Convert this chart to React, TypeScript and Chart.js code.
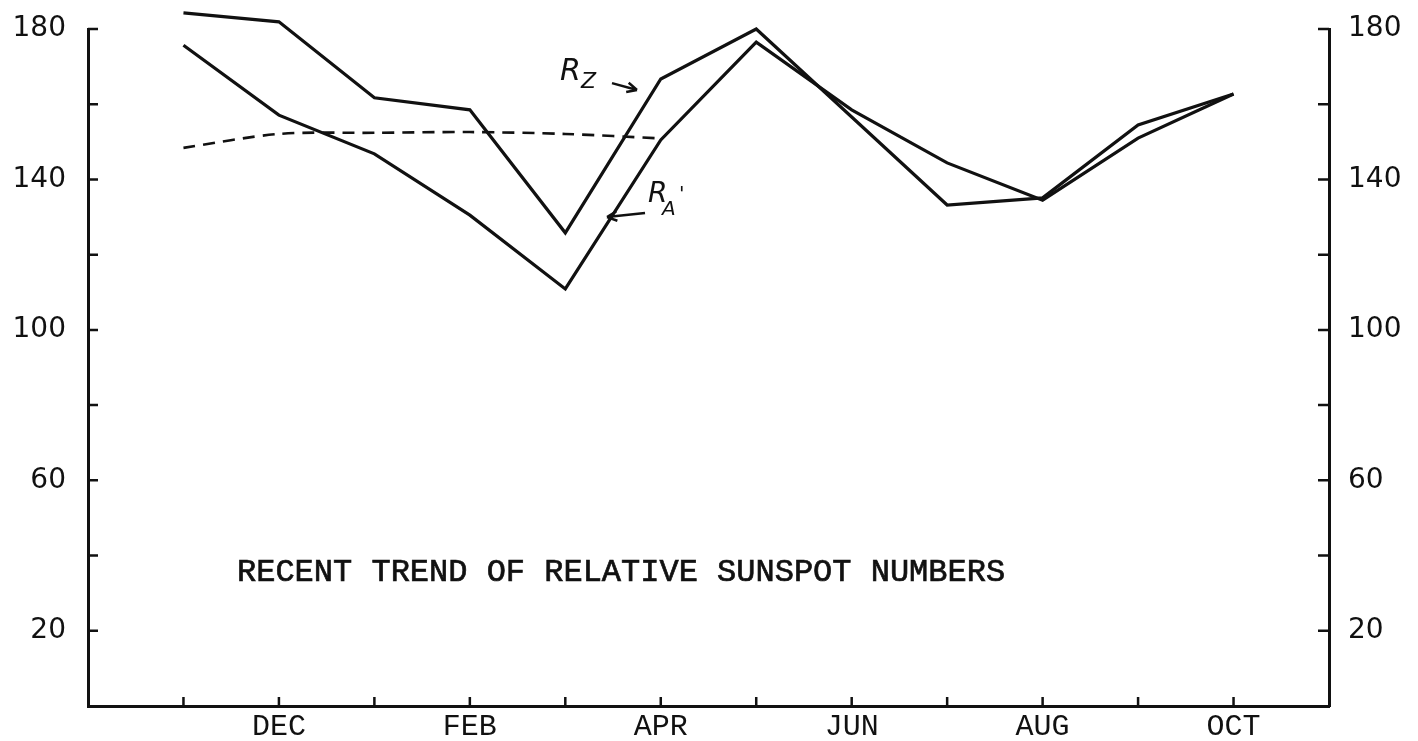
import React, { useEffect, useRef } from 'react';
import { Chart, registerables } from 'chart.js';

Chart.register(...registerables);

// ---- data ----
const months = ['NOV', 'DEC', 'JAN', 'FEB', 'MAR', 'APR', 'MAY', 'JUN', 'JUL', 'AUG', 'SEP', 'OCT'];
const labeledMonths = ['DEC', 'FEB', 'APR', 'JUN', 'AUG', 'OCT'];
const rzValues = [184.3, 181.9, 161.7, 158.5, 125.8, 166.7, 180.0, 156.6, 133.2, 135.1, 154.5, 162.7];
const raValues = [175.7, 157.1, 146.8, 130.5, 110.9, 150.5, 176.5, 158.5, 144.4, 134.5, 151.0, 162.7];
const trendValues = [148.4, 152.1, 152.4, 152.6, 152.1, 150.9];
const yTickValues = [20, 40, 60, 80, 100, 120, 140, 160, 180];
const yLabeledValues = [20, 60, 100, 140, 180];
const chartTitle = 'RECENT TREND OF RELATIVE SUNSPOT NUMBERS';

const INK = '#111';

const toPoints = (vals: number[]) => vals.map((y, i) => ({ x: i, y }));

const decorPlugin = {
  id: 'decor',
  afterDatasetsDraw(chart: any) {
    const { ctx, chartArea, scales } = chart;
    const xs = scales.x;
    const ys = scales.y;
    const px = (v: number) => xs.getPixelForValue(v);
    const py = (v: number) => ys.getPixelForValue(v);
    ctx.save();
    ctx.strokeStyle = INK;
    ctx.fillStyle = INK;
    ctx.lineWidth = 2.5;
    ctx.lineCap = 'butt';
    // inward tick marks
    ctx.beginPath();
    yTickValues.forEach((v) => {
      const y = py(v);
      ctx.moveTo(chartArea.left, y);
      ctx.lineTo(chartArea.left + 10, y);
      ctx.moveTo(chartArea.right, y);
      ctx.lineTo(chartArea.right - 11, y);
    });
    months.forEach((_, i) => {
      const x = px(i);
      ctx.moveTo(x, chartArea.bottom);
      ctx.lineTo(x, chartArea.bottom - 9);
    });
    ctx.stroke();

    // title inside the plot
    ctx.font = '32px "Liberation Mono", monospace';
    ctx.textAlign = 'left';
    ctx.textBaseline = 'middle';
    ctx.lineWidth = 0.7;
    ctx.fillText(chartTitle, px(0.561), py(35.4));
    ctx.strokeText(chartTitle, px(0.561), py(35.4));

    const drawArrow = (x1: number, y1: number, x2: number, y2: number) => {
      ctx.lineWidth = 2.5;
      ctx.beginPath();
      ctx.moveTo(x1, y1);
      ctx.lineTo(x2, y2);
      const a = Math.atan2(y2 - y1, x2 - x1);
      const L = 11;
      ctx.moveTo(x2, y2);
      ctx.lineTo(x2 - L * Math.cos(a - 0.45), y2 - L * Math.sin(a - 0.45));
      ctx.moveTo(x2, y2);
      ctx.lineTo(x2 - L * Math.cos(a + 0.45), y2 - L * Math.sin(a + 0.45));
      ctx.stroke();
    };

    // R_Z label and arrow
    ctx.textBaseline = 'alphabetic';
    const rzX = px(3.944);
    const rzY = py(166.4);
    ctx.font = 'italic 30px "DejaVu Sans", sans-serif';
    ctx.fillText('R', rzX, rzY);
    ctx.font = 'italic 22px "DejaVu Sans", sans-serif';
    ctx.fillText('Z', rzX + 21, rzY + 8);
    drawArrow(px(4.489), py(165.6), px(4.751), py(163.8));

    // R_A' label and arrow
    const raX = px(4.866);
    const raY = py(134.0);
    ctx.font = 'italic 28px "DejaVu Sans", sans-serif';
    ctx.fillText('R', raX, raY);
    ctx.font = 'italic 20px "DejaVu Sans", sans-serif';
    ctx.fillText('A', raX + 14, raY + 13);
    ctx.fillText("'", raX + 31, raY - 2);
    drawArrow(px(4.835), py(131.1), px(4.437), py(130.0));
    ctx.restore();
  },
};

export default function App() {
  const ref = useRef<HTMLCanvasElement | null>(null);
  useEffect(() => {
    if (!ref.current) return;
    const yTickFont = { family: '"DejaVu Sans", sans-serif', size: 28 };
    const yCallback = (v: any) => (yLabeledValues.includes(Number(v)) ? String(v) : '');
    const fitY = (w: number) => (s: any) => {
      s.width = w;
      s.paddingTop = 0;
      s.paddingBottom = 0;
    };
    const lineStyle = {
      borderColor: INK,
      borderWidth: 3.2,
      pointRadius: 0,
      tension: 0,
      fill: false,
      clip: false,
      borderJoinStyle: 'miter',
    };
    const chart = new Chart(ref.current, {
      type: 'line',
      data: {
        datasets: [
          { label: 'R_Z', data: toPoints(rzValues), ...lineStyle },
          { label: "R_A'", data: toPoints(raValues), ...lineStyle },
          {
            label: 'trend',
            data: toPoints(trendValues),
            borderColor: INK,
            borderWidth: 2.6,
            borderDash: [12, 8],
            pointRadius: 0,
            tension: 0.3,
            fill: false,
            clip: false,
          },
        ],
      },
      options: {
        animation: false,
        responsive: false,
        devicePixelRatio: 1,
        layout: { padding: { top: 29, left: 0, right: 0, bottom: 0 } },
        plugins: {
          legend: { display: false },
          tooltip: { enabled: false },
          title: { display: false },
        },
        scales: {
          x: {
            type: 'linear',
            position: 'bottom',
            min: -1,
            max: 12,
            afterBuildTicks: (s: any) => {
              s.ticks = months.map((_, i) => ({ value: i }));
            },
            afterFit: (s: any) => {
              s.height = 35;
              s.paddingLeft = 0;
              s.paddingRight = 0;
            },
            grid: { display: false, drawTicks: false },
            border: { display: true, color: INK, width: 3 },
            ticks: {
              autoSkip: false,
              maxRotation: 0,
              padding: 3,
              color: INK,
              font: { family: '"Liberation Mono", monospace', size: 30 },
              callback: (v: any) => {
                const m = months[Number(v)];
                return m && labeledMonths.includes(m) ? m : '';
              },
            },
          },
          y: {
            type: 'linear',
            position: 'left',
            min: 0,
            max: 180,
            afterBuildTicks: (s: any) => {
              s.ticks = yTickValues.map((value) => ({ value }));
            },
            afterFit: fitY(88),
            grid: { display: false, drawTicks: false },
            border: { display: true, color: INK, width: 3 },
            ticks: { autoSkip: false, padding: 22, color: INK, font: yTickFont, callback: yCallback },
          },
          y2: {
            type: 'linear',
            position: 'right',
            display: true,
            min: 0,
            max: 180,
            afterBuildTicks: (s: any) => {
              s.ticks = yTickValues.map((value) => ({ value }));
            },
            afterFit: fitY(89),
            grid: { display: false, drawTicks: false },
            border: { display: true, color: INK, width: 3 },
            ticks: { autoSkip: false, padding: 19, color: INK, font: yTickFont, callback: yCallback },
          },
        },
      },
      plugins: [decorPlugin],
    } as any);
    return () => chart.destroy();
  }, []);

  return (
    <div style={{ position: 'fixed', left: 0, top: 0, width: 1418, height: 741, background: '#fff' }}>
      <canvas ref={ref} width={1418} height={741} style={{ display: 'block', width: 1418, height: 741 }} />
    </div>
  );
}
